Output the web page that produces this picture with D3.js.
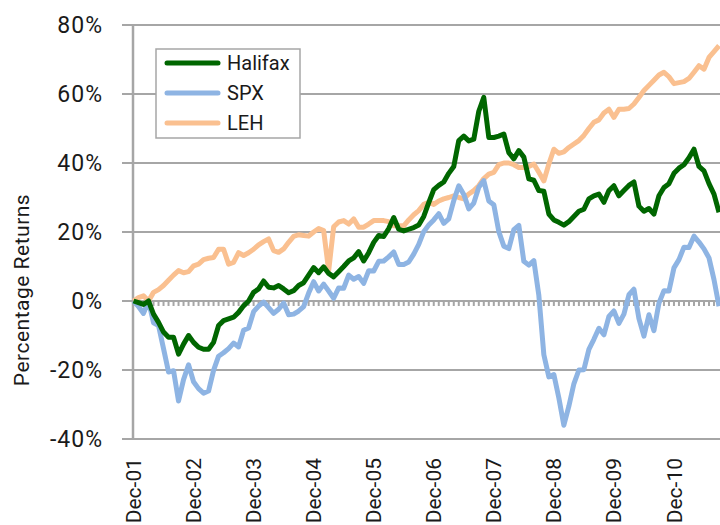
<!DOCTYPE html>
<html>
<head>
  <script src="https://d3js.org/d3.v7.min.js"></script>
  <style>
    body { margin: 0; background: #fff; }
    text { font-family: Roboto, "DejaVu Sans", sans-serif; fill: #1a1a1a; }
  </style>
</head>
<body>
  <div id="chart"></div>

  <script>
    // monthly returns in %, Dec-01 .. Sep-11
    var seriesNames = ['Halifax', 'SPX', 'LEH'];
    var seriesColors = ['#006600', '#8eb4e3', '#fac090'];

    var halifax = [0, -0.5, -1, 0, -3.8, -6.2, -9, -10.5, -10.5, -15.4, -12.5, -10,
      -12, -13.4, -14, -14, -12, -7.1, -5.7, -5.2, -4.7, -3.3, -1.4, 0,
      2.5, 3.5, 5.8, 4, 3.8, 4.5, 3.5, 2.4, 3, 4.5, 5.3, 7.5,
      9.7, 8.2, 9.9, 8, 7, 8.5, 10, 11.6, 12.5, 14.3, 11.6, 14,
      17, 19, 18.7, 21, 24.2, 20.8, 20.3, 20.8, 21.3, 22, 24.5, 28.5,
      32.3, 33.5, 34.5, 37, 39, 46.5, 47.8, 46.4, 46.9, 55, 59, 47.4,
      47.4, 47.8, 48.4, 43, 41.2, 43.6, 41.7, 35.4, 35, 32, 31.8, 25.2,
      23.5, 22.8, 22, 23, 24.5, 26, 26.6, 29.6, 30.5, 31, 28.6, 32,
      33.4, 30.5, 32, 33.5, 34.5, 27.5, 26, 26.8, 25.2, 30.5, 32.9, 34,
      37, 38.5, 39.5, 41.5, 44, 39, 37.7, 34, 31, 25.7];

    var spx = [0, -1.6, -3.6, 0, -6.3, -7.1, -13.8, -20.6, -20.2, -29, -22.8, -18.5,
      -23.4, -25.4, -26.7, -26.1, -20.1, -16, -15, -13.8, -12.2, -13.3, -8.5, -7.8,
      -3.1, -1.5, -0.3, -1.9, -3.6, -2.4, -0.6, -4, -3.8, -2.9, -1.6, 2.3,
      5.6, 2.9, 4.9, 2.9, 0.8, 3.8, 3.7, 7.5, 6.3, 7.1, 5.1, 8.8,
      8.7, 11.5, 11.6, 12.8, 14.2, 10.6, 10.6, 11.3, 13.6, 16.4, 20.1, 22,
      23.5, 25.3, 22.5, 23.8, 29.1, 33.4, 30.9, 26.7, 28.4, 33, 34.9, 29,
      27.9, 20.1, 15.9, 15.2, 20.7, 21.9, 11.5, 10.4, 11.7, 1.6, -15.6, -22,
      -21.3, -28.1, -36, -30.5, -24, -20, -19.9, -14, -11.1, -7.9, -9.8, -4.5,
      -2.9, -6.5, -3.8, 1.8, 3.4, -5.1, -10.2, -4, -8.6, -0.6, 3, 2.9,
      9.6, 12, 15.6, 15.5, 18.8, 17.1, 15.1, 12.5, 6.2, -1.5];

    var leh = [0, 1, 1.5, 0, 2.5, 3.3, 4.5, 6, 7.5, 8.8, 8.2, 8.5,
      10.2, 10.7, 12, 12.4, 12.6, 15, 15, 10.7, 11.2, 14, 13.2, 14,
      15, 16.3, 17.2, 18, 14.6, 14.1, 15.1, 17, 18.7, 19.2, 19, 18.8,
      20, 21, 20.4, 8.8, 21.5, 22.9, 23.3, 22.3, 23.8, 21.4, 21.4, 22.3,
      23.3, 23.3, 23.3, 23, 21.8, 21.8, 21.8, 23.5, 25, 26.2, 28, 28.6,
      28, 29, 29.6, 30, 30.5, 30, 29.6, 31, 32, 33.4, 35.5, 36.8,
      37.3, 39.5, 40, 40, 39.5, 38.7, 38.7, 39, 39.7, 37.3, 34.8, 39.7,
      44, 42.8, 43.2, 44.5, 45.5, 46.5, 48, 50, 51.8, 52.5, 54.5, 55.6,
      53.2, 55.6, 55.6, 55.8, 57.1, 59, 61, 62.5, 64, 65.5, 66.3, 65,
      63, 63.3, 63.6, 64.5, 66.3, 68.2, 67.2, 70.6, 72.3, 74];

    var yTicks = [-40, -20, 0, 20, 40, 60, 80];

    // month categories
    var fmt = d3.timeFormat('%b-%y');
    var months = d3.timeMonth.range(new Date(2001, 11, 1), new Date(2011, 9, 1)).map(fmt);
    var labelMonths = months.filter(function(d) { return d.indexOf('Dec') === 0; });

    var W = 720, H = 525;
    var svg = d3.select('#chart').append('svg')
      .attr('width', W)
      .attr('height', H);

    var x = d3.scalePoint()
      .domain(months)
      .range([133.5, 719]);

    var y = d3.scaleLinear()
      .domain([-40, 80])
      .range([439, 25]);

    // gridlines
    svg.append('g')
      .selectAll('line')
      .data(yTicks)
      .enter()
      .append('line')
      .attr('x1', 122)
      .attr('x2', W)
      .attr('y1', function(d) { return y(d); })
      .attr('y2', function(d) { return y(d); })
      .attr('stroke', '#a6a6a6')
      .attr('stroke-width', 2);

    // y axis line
    svg.append('line')
      .attr('x1', 133).attr('x2', 133)
      .attr('y1', y(80)).attr('y2', y(-40))
      .attr('stroke', '#a6a6a6')
      .attr('stroke-width', 2.5);

    // category tick marks on the zero line
    svg.append('g')
      .selectAll('line')
      .data(months)
      .enter()
      .append('line')
      .attr('x1', function(d) { return x(d); })
      .attr('x2', function(d) { return x(d); })
      .attr('y1', y(0))
      .attr('y2', y(0) + 5)
      .attr('stroke', '#a6a6a6')
      .attr('stroke-width', 2);

    // y tick labels
    svg.append('g')
      .selectAll('text')
      .data(yTicks)
      .enter()
      .append('text')
      .attr('x', 103)
      .attr('y', function(d) { return y(d); })
      .attr('dy', '0.36em')
      .attr('text-anchor', 'end')
      .attr('font-size', '23px')
      .attr('letter-spacing', '1px')
      .text(function(d) { return d + '%'; });

    // x tick labels
    svg.append('g')
      .selectAll('text')
      .data(labelMonths)
      .enter()
      .append('text')
      .attr('transform', function(d) { return 'translate(' + x(d) + ',458) rotate(-90)'; })
      .attr('dy', '0.36em')
      .attr('text-anchor', 'end')
      .attr('font-size', '21px')
      .text(function(d) { return d; });

    // y axis title
    svg.append('text')
      .attr('transform', 'translate(21,290) rotate(-90)')
      .attr('dy', '0.36em')
      .attr('text-anchor', 'middle')
      .attr('font-size', '21px')
      .attr('letter-spacing', '0.5px')
      .text('Percentage Returns');

    // lines
    var line = d3.line()
      .x(function(d, i) { return x(months[i]); })
      .y(function(d) { return y(d); });

    var allSeries = [halifax, spx, leh];
    var drawOrder = [2, 1, 0];
    drawOrder.forEach(function(k) {
      svg.append('path')
        .datum(allSeries[k])
        .attr('d', line)
        .attr('fill', 'none')
        .attr('stroke', seriesColors[k])
        .attr('stroke-width', 5)
        .attr('stroke-linejoin', 'round');
    });

    // legend
    var legend = svg.append('g');
    legend.append('rect')
      .attr('x', 156).attr('y', 49)
      .attr('width', 144).attr('height', 89)
      .attr('fill', '#fff')
      .attr('stroke', '#a6a6a6')
      .attr('stroke-width', 1.5);

    seriesNames.forEach(function(name, i) {
      var ly = 63 + i * 30;
      legend.append('line')
        .attr('x1', 167).attr('x2', 218)
        .attr('y1', ly).attr('y2', ly)
        .attr('stroke', seriesColors[i])
        .attr('stroke-width', 5)
        .attr('stroke-linecap', 'round');
      legend.append('text')
        .attr('x', 227)
        .attr('y', ly)
        .attr('dy', '0.36em')
        .attr('font-size', '20px')
        .text(name);
    });
  </script>
</body>
</html>
